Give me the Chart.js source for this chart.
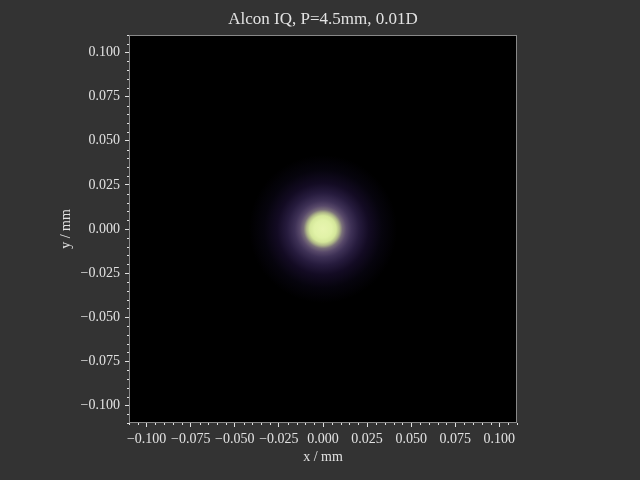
<!DOCTYPE html>
<html lang="en">
<head>
  <meta charset="UTF-8" />
  <title>Alcon IQ PSF</title>
  <style>
    html, body { margin: 0; padding: 0; background: #333333; }
    #wrap { width: 640px; height: 480px; }
  </style>
</head>
<body>
  <div id="wrap"><canvas id="psf" width="640" height="480"></canvas></div>

  <script src="https://cdn.jsdelivr.net/npm/chart.js"></script>
  <script>
    // ---- data ----
    const titleText = 'Alcon IQ, P=4.5mm, 0.01D';
    const xTitle = 'x / mm';
    const yTitle = 'y / mm';
    const axisMin = -0.11;
    const axisMax = 0.11;
    const majorTicks = [-0.1, -0.075, -0.05, -0.025, 0, 0.025, 0.05, 0.075, 0.1];
    const minorStep = 0.005;
    // PSF centre and its radial intensity profile (radius in mm, normalised intensity)
    const psfCenter = [{ x: 0, y: 0 }];
    const psfRadius = [0, 0.005, 0.0075, 0.0093, 0.011, 0.0132, 0.016, 0.0205, 0.026, 0.0335, 0.042];
    const psfIntensity = [1, 0.96, 0.88, 0.72, 0.55, 0.42, 0.3, 0.18, 0.09, 0.035, 0];

    // ---- style ----
    const FONT = 'Liberation Serif, Times New Roman, serif';
    const TEXT = '#e2e2e2';
    const SPINE = '#888888';
    // colormap: intensity -> colour
    const cmap = [
      [0, '#000000'], [0.04, '#07040f'], [0.1, '#150d27'], [0.2, '#2a1f42'],
      [0.35, '#483a60'], [0.5, '#6a5a76'], [0.65, '#979880'], [0.8, '#c8d890'],
      [0.93, '#dcefa0'], [1, '#e8f5b0']
    ];

    function hexRgb(h) {
      return [1, 3, 5].map(i => parseInt(h.substr(i, 2), 16));
    }
    function cmapColor(v) {
      for (let i = 1; i < cmap.length; i++) {
        if (v <= cmap[i][0]) {
          const [v0, c0] = cmap[i - 1], [v1, c1] = cmap[i];
          const t = (v - v0) / (v1 - v0);
          const a = hexRgb(c0), b = hexRgb(c1);
          const c = a.map((q, k) => Math.round(q + (b[k] - q) * t));
          return `rgb(${c[0]},${c[1]},${c[2]})`;
        }
      }
      return cmap[cmap.length - 1][1];
    }

    function fmt(v) {
      if (Math.abs(v) < 1e-9) return '0.000';
      return (v < 0 ? '\u2212' : '') + Math.abs(v).toFixed(3);
    }

    // draws the PSF image inside the axes
    const psfImage = {
      id: 'psfImage',
      beforeDatasetsDraw(chart) {
        const { ctx, chartArea: a, scales: { x, y } } = chart;
        ctx.save();
        ctx.beginPath();
        ctx.rect(a.left, a.top, a.width, a.height);
        ctx.clip();
        ctx.fillStyle = '#000000';
        ctx.fillRect(a.left, a.top, a.width, a.height);
        const cx = x.getPixelForValue(psfCenter[0].x);
        const cy = y.getPixelForValue(psfCenter[0].y);
        const rMax = psfRadius[psfRadius.length - 1];
        const rPx = Math.abs(x.getPixelForValue(rMax) - x.getPixelForValue(0));
        const g = ctx.createRadialGradient(cx, cy, 0, cx, cy, rPx);
        psfRadius.forEach((r, i) => g.addColorStop(r / rMax, cmapColor(psfIntensity[i])));
        ctx.fillStyle = g;
        ctx.beginPath();
        ctx.arc(cx, cy, rPx, 0, Math.PI * 2);
        ctx.fill();
        ctx.restore();
      }
    };

    // spines + minor ticks
    const frame = {
      id: 'frame',
      afterDraw(chart) {
        const { ctx, chartArea: a, scales: { x, y } } = chart;
        ctx.save();
        ctx.strokeStyle = SPINE;
        ctx.lineWidth = 1;
        ctx.strokeRect(Math.round(a.left) + 0.5, Math.round(a.top) + 0.5,
          Math.round(a.width) - 1, Math.round(a.height) - 1);
        ctx.strokeStyle = TEXT;
        ctx.beginPath();
        for (let v = axisMin; v <= axisMax + 1e-9; v += minorStep) {
          if (majorTicks.some(m => Math.abs(m - v) < 1e-9)) continue;
          const px = Math.round(x.getPixelForValue(v)) + 0.5;
          ctx.moveTo(px, a.bottom);
          ctx.lineTo(px, a.bottom + 2);
          const py = Math.round(y.getPixelForValue(v)) + 0.5;
          ctx.moveTo(a.left, py);
          ctx.lineTo(a.left - 2, py);
        }
        ctx.stroke();
        ctx.restore();
      }
    };

    const tickFont = { family: FONT, size: 14 };
    const titleFont = { family: FONT, size: 14 };

    new Chart(document.getElementById('psf'), {
      type: 'scatter',
      data: {
        datasets: [{
          label: 'PSF',
          data: psfCenter,
          pointRadius: 0,
          pointHoverRadius: 0
        }]
      },
      options: {
        responsive: false,
        animation: false,
        devicePixelRatio: 1,
        layout: { padding: { left: 0, right: 123, top: 0, bottom: 0 } },
        plugins: {
          legend: { display: false },
          tooltip: { enabled: false },
          title: {
            display: true,
            text: titleText,
            color: TEXT,
            fullSize: false,
            font: { family: FONT, size: 17, weight: 'normal' },
            padding: { top: 9, bottom: 5.6 }
          }
        },
        scales: {
          x: {
            type: 'linear',
            min: axisMin,
            max: axisMax,
            afterBuildTicks: s => { s.ticks = majorTicks.map(v => ({ value: v })); },
            afterFit: s => { s.height = 57; },
            ticks: {
              color: TEXT, font: tickFont, padding: 4,
              maxRotation: 0, autoSkip: false, callback: v => fmt(v)
            },
            grid: {
              display: true, drawOnChartArea: false, drawTicks: true,
              tickLength: 4, tickColor: TEXT, tickWidth: 1
            },
            border: { display: false },
            title: {
              display: true, text: xTitle, color: TEXT, font: titleFont,
              padding: { top: 0, bottom: 14.6 }
            }
          },
          y: {
            type: 'linear',
            min: axisMin,
            max: axisMax,
            afterBuildTicks: s => { s.ticks = majorTicks.map(v => ({ value: v })); },
            afterFit: s => { s.width = 129; },
            ticks: {
              color: TEXT, font: tickFont, padding: 5,
              autoSkip: false, callback: v => fmt(v)
            },
            grid: {
              display: true, drawOnChartArea: false, drawTicks: true,
              tickLength: 4, tickColor: TEXT, tickWidth: 1
            },
            border: { display: false },
            title: {
              display: true, text: yTitle, color: TEXT, font: titleFont,
              padding: { top: 57.6, bottom: 0 }
            }
          }
        }
      },
      plugins: [psfImage, frame]
    });
  </script>
</body>
</html>
